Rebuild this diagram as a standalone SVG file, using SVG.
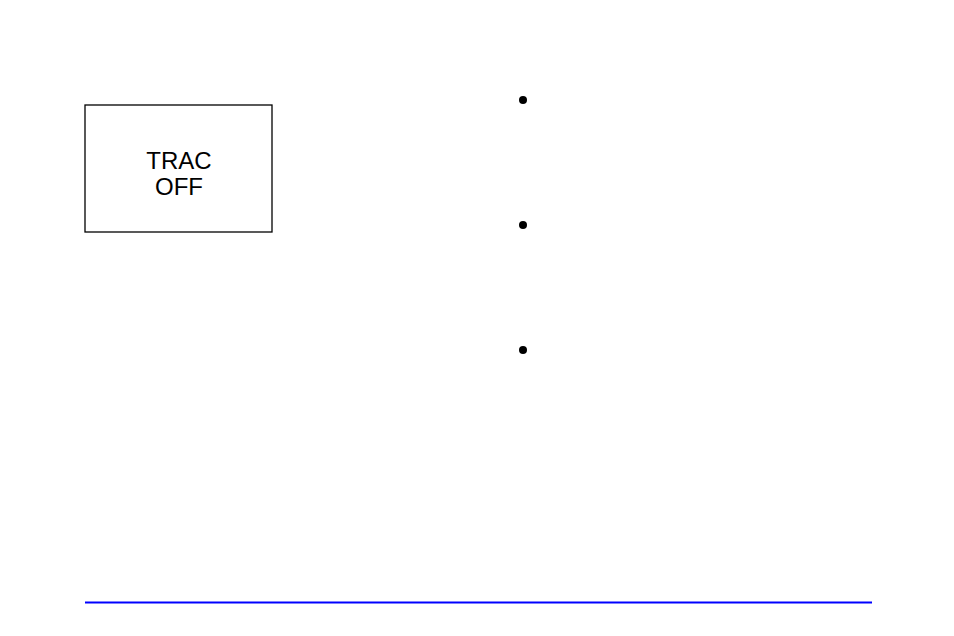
<svg xmlns="http://www.w3.org/2000/svg" width="954" height="636" viewBox="0 0 954 636">
<style>
.lbl{font-family:"Liberation Sans",Arial,sans-serif;font-size:24px;fill:#000;text-anchor:middle}
.bullet{fill:#000}
</style>
<rect width="954" height="636" fill="#fff"/>
<g id="trac-off">
<rect x="85" y="105" width="187" height="127" fill="#fff" stroke="#000" stroke-width="1.3"/>
<text class="lbl" x="179" y="169">TRAC</text>
<text class="lbl" x="179" y="195">OFF</text>
</g>
<g id="bullets">
<circle class="bullet" cx="523" cy="100" r="4"/>
<circle class="bullet" cx="523" cy="225" r="4"/>
<circle class="bullet" cx="523" cy="350" r="4"/>
</g>
<g id="connectors"></g>
<rect id="rule" x="85" y="601.5" width="787" height="2" fill="#0000ff"/>
</svg>
